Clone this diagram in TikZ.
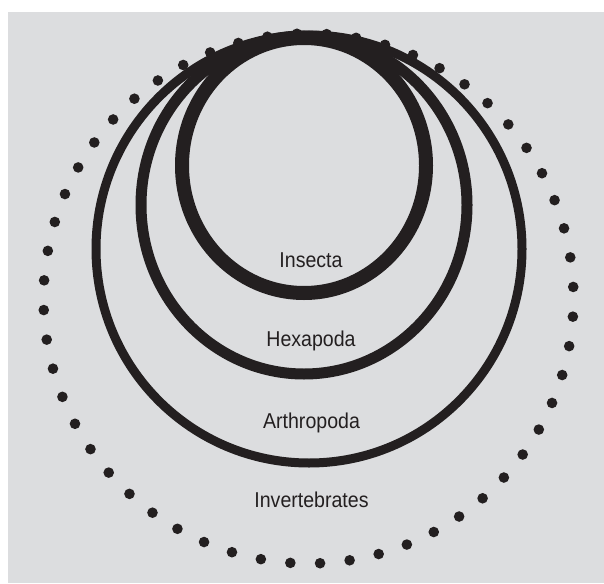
\documentclass[tikz,border=0pt]{standalone}
\usepackage{fontspec}
\setmainfont{Liberation Sans}
\newfontfamily\taxonfont[FakeStretch=0.91]{Liberation Sans}
\definecolor{panelgray}{HTML}{DCDDDF}
\definecolor{inkblack}{HTML}{231F20}

\begin{document}
\begin{tikzpicture}[
    x=1pt, y=-1pt,
    % Define ring and dot styles
    ring/.style={draw=inkblack},
    dotmark/.style={fill=inkblack},
    taxon/.style={text=inkblack, font=\taxonfont\fontsize{21.5}{25}\selectfont, inner sep=0pt}
]

% Page and grey panel
\useasboundingbox (0,0) rectangle (604,583);
\fill[panelgray] (8,12) rectangle (604,583);

% Dotted circle: Invertebrates
\def\cx{308.5}
\def\cy{298.5}
\def\rr{265}
\foreach \k in {0,...,55}
    \fill[dotmark] ({\cx+\rr*cos(92.5+\k*6.428571)}, {\cy-\rr*sin(92.5+\k*6.428571)}) circle[radius=5.3pt];

% Nested rings
\draw[ring, line width=9pt] (309,249) ellipse [x radius=213pt, y radius=214pt];   % Arthropoda
\draw[ring, line width=11pt] (304,205) ellipse [x radius=163pt, y radius=169pt];  % Hexapoda
\draw[ring, line width=14pt] (304,165.5) ellipse [x radius=122pt, y radius=127.5pt]; % Insecta

% Labels
\node[taxon] (insecta) at (311,260) {Insecta};
\node[taxon] (hexapoda) at (311,341) {Hexapoda};
\node[taxon] (arthropoda) at (311.5,423) {Arthropoda};
\node[taxon] (invertebrates) at (311.5,500) {Invertebrates};

\end{tikzpicture}
\end{document}
